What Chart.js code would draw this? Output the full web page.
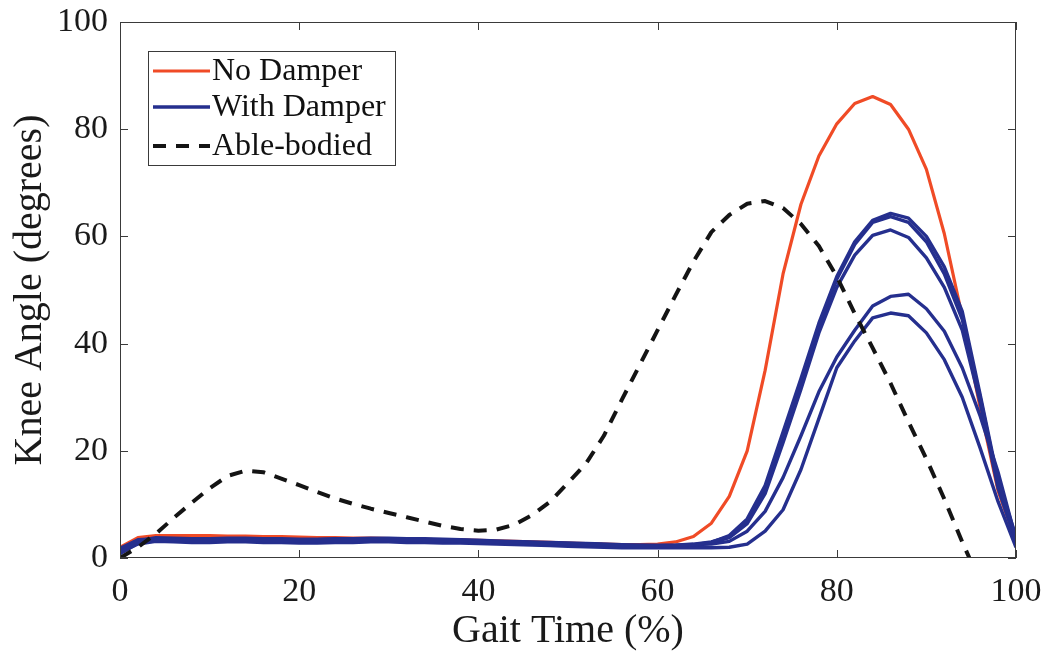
<!DOCTYPE html>
<html>
<head>
<meta charset="utf-8">
<script src="https://cdn.jsdelivr.net/npm/chart.js@4"></script>
<style>
  html, body { margin: 0; padding: 0; background: #ffffff; }
  #wrap { width: 1046px; height: 655px; position: relative; }
</style>
</head>
<body>
<div id="wrap"><canvas id="c" width="1046" height="655"></canvas></div>
<script>
// ---- data ----
const gaitTime = [0, 2, 4, 6, 8, 10, 12, 14, 16, 18, 20, 22, 24, 26, 28, 30, 32, 34, 36, 38, 40,
  42, 44, 46, 48, 50, 52, 54, 56, 58, 60, 62, 64, 66, 68, 70, 72, 74, 76, 78, 80,
  82, 84, 86, 88, 90, 92, 94, 96, 98, 100];

const noDamper = [2.0, 3.8, 4.2, 4.2, 4.2, 4.2, 4.1, 4.1, 4.0, 4.0, 3.9, 3.8, 3.8, 3.7, 3.7, 3.6,
  3.6, 3.5, 3.4, 3.4, 3.3, 3.2, 3.1, 3.0, 2.9, 2.8, 2.7, 2.6, 2.5, 2.5, 2.6, 3.0, 4.0, 6.5, 11.5,
  20, 35, 53, 66, 75, 81, 84.8, 86.1, 84.6, 80, 72.5, 60.5, 45, 28, 12.5, 3];

const withDamper1 = [1.2, 3.0, 3.5, 3.4, 3.3, 3.3, 3.4, 3.4, 3.3, 3.3, 3.2, 3.2, 3.3, 3.3, 3.4, 3.4,
  3.4, 3.3, 3.3, 3.2, 3.1, 3.0, 2.9, 2.8, 2.7, 2.6, 2.5, 2.4, 2.3, 2.2, 2.2, 2.3, 2.5, 2.9, 4.2,
  7.3, 13.5, 23.5, 33.5, 43.8, 52.5, 59, 63, 64.3, 63.4, 60, 54.3, 46, 30.5, 14.5, 4];
const withDamper2 = [1.8, 3.4, 3.6, 3.5, 3.5, 3.6, 3.6, 3.5, 3.5, 3.4, 3.4, 3.4, 3.5, 3.5, 3.5, 3.5,
  3.4, 3.4, 3.3, 3.3, 3.2, 3.1, 3.0, 2.9, 2.8, 2.7, 2.6, 2.5, 2.4, 2.4, 2.3, 2.4, 2.6, 3.0, 4.0,
  6.8, 12.8, 22.5, 32.8, 43.2, 52, 58.5, 62.6, 63.7, 62.6, 59, 53, 44.5, 30, 14, 3.5];
const withDamper3 = [0.8, 2.8, 3.3, 3.2, 3.1, 3.1, 3.2, 3.2, 3.2, 3.1, 3.0, 3.0, 3.1, 3.2, 3.2, 3.3,
  3.3, 3.2, 3.2, 3.1, 3.0, 2.9, 2.8, 2.7, 2.6, 2.5, 2.4, 2.3, 2.2, 2.1, 2.1, 2.2, 2.4, 2.8, 3.8,
  6.4, 12, 21.5, 31.5, 42, 50.5, 56.5, 60.2, 61.2, 59.8, 56, 50.5, 42.5, 29, 13, 3];
const withDamper4 = [1.5, 3.2, 3.8, 3.7, 3.6, 3.6, 3.7, 3.7, 3.6, 3.6, 3.5, 3.5, 3.6, 3.6, 3.7, 3.7,
  3.6, 3.6, 3.5, 3.4, 3.3, 3.2, 3.1, 3.0, 2.9, 2.8, 2.7, 2.6, 2.5, 2.4, 2.4, 2.4, 2.5, 2.6, 3.1,
  5.0, 8.7, 15, 22.8, 31, 37.5, 42.5, 47, 48.8, 49.2, 46.5, 42.3, 35.5, 26.5, 16, 3.5];
const withDamper5 = [1.0, 2.6, 3.1, 3.0, 2.9, 2.9, 3.0, 3.0, 2.9, 2.9, 2.8, 2.8, 2.9, 2.9, 3.0, 3.0,
  2.9, 2.9, 2.8, 2.8, 2.7, 2.6, 2.5, 2.4, 2.3, 2.2, 2.1, 2.0, 1.9, 1.9, 1.9, 1.9, 1.9, 1.9, 2.0,
  2.6, 5.0, 9.0, 16.5, 26, 35.5, 40.5, 44.8, 45.7, 45.2, 42, 37, 30, 20.5, 10.5, 2];

// able-bodied reference runs to 96 % (it leaves the axes below 0 near 95 %)
const ableBodied = [0, 2, 4.5, 7.5, 10.3, 13, 15.3, 16.3, 16, 14.8, 13.6, 12.3, 11.1, 10.1, 9.2, 8.4,
  7.6, 6.8, 6.0, 5.4, 5.1, 5.3, 6.2, 8.0, 10.5, 14, 17.6, 22.8, 29.5, 36, 42.5, 49, 55.3, 60.8, 64,
  66.1, 66.6, 65.3, 62.3, 58.2, 52.5, 45.6, 39.2, 32.6, 25.4, 18.5, 11, 3.0, -4.5];

const xTicks = [0, 20, 40, 60, 80, 100];
const yTicks = [0, 20, 40, 60, 80, 100];
const seriesNames = ['No Damper', 'With Damper', 'Able-bodied'];

// ---- build ----
const RED = '#f04b26', BLUE = '#252f8e', BLACK = '#141414';
const FONT = "'Liberation Serif', 'Times New Roman', serif";
const toXY = (ys) => ys.map((y, i) => ({ x: gaitTime[i], y }));

const blueTrials = [withDamper1, withDamper2, withDamper3, withDamper4, withDamper5];
const datasets = [];
datasets.push({ label: seriesNames[2], data: toXY(ableBodied), borderColor: BLACK, borderWidth: 4,
  borderDash: [13, 10], order: 0, inLegend: true });
blueTrials.forEach((t, k) => datasets.push({ label: seriesNames[1], data: toXY(t), borderColor: BLUE,
  borderWidth: 3.4, order: 1, inLegend: k === 0 }));
datasets.push({ label: seriesNames[0], data: toXY(noDamper), borderColor: RED, borderWidth: 3.2,
  order: 2, inLegend: true });
datasets.forEach(d => { d.pointRadius = 0; d.tension = 0; d.fill = false; d.borderCapStyle = 'butt'; d.borderJoinStyle = 'round'; });

const frame = {
  id: 'frame',
  afterDatasetsDraw(chart) {
    const { ctx, chartArea: a, scales } = chart;
    ctx.save();
    ctx.strokeStyle = '#3a3a3a';
    ctx.lineWidth = 1;
    ctx.strokeRect(a.left + 0.5, a.top + 0.5, a.right - a.left - 1, a.bottom - a.top - 1);
    const L = 8;
    ctx.beginPath();
    xTicks.forEach(v => {
      const px = Math.round(scales.x.getPixelForValue(v)) + 0.5;
      ctx.moveTo(px, a.bottom); ctx.lineTo(px, a.bottom - L);
      ctx.moveTo(px, a.top); ctx.lineTo(px, a.top + L);
    });
    yTicks.forEach(v => {
      const py = Math.round(scales.y.getPixelForValue(v)) + 0.5;
      ctx.moveTo(a.left, py); ctx.lineTo(a.left + L, py);
      ctx.moveTo(a.right, py); ctx.lineTo(a.right - L, py);
    });
    ctx.stroke();

    // legend box inside the axes (top-left)
    const items = chart.data.datasets.filter(d => d.inLegend);
    const order = seriesNames.map(n => items.find(d => d.label === n));
    const bx = a.left + 28, by = a.top + 29, bw = 247, bh = 114;
    ctx.fillStyle = '#ffffff';
    ctx.fillRect(bx, by, bw, bh);
    ctx.strokeStyle = '#3a3a3a';
    ctx.lineWidth = 1;
    ctx.strokeRect(bx + 0.5, by + 0.5, bw, bh);
    const rows = [20, 56, 95];
    ctx.font = '32px ' + FONT;
    ctx.textBaseline = 'middle';
    ctx.textAlign = 'left';
    order.forEach((d, i) => {
      const y = by + rows[i];
      ctx.save();
      ctx.strokeStyle = d.borderColor;
      ctx.lineWidth = d.borderWidth;
      ctx.setLineDash(d.borderDash || []);
      ctx.beginPath();
      ctx.moveTo(bx + 5, y); ctx.lineTo(bx + 62, y);
      ctx.stroke();
      ctx.restore();
      ctx.fillStyle = '#111111';
      ctx.fillText(d.label, bx + 64, y + 1);
    });
    ctx.restore();
  }
};

new Chart(document.getElementById('c'), {
  type: 'line',
  data: { datasets },
  options: {
    responsive: false,
    animation: false,
    devicePixelRatio: 1,
    layout: { padding: { top: 22, right: 30, bottom: 0, left: 0 } },
    plugins: { legend: { display: false }, tooltip: { enabled: false } },
    scales: {
      x: {
        type: 'linear', min: 0, max: 100,
        grid: { display: false }, border: { display: false },
        afterBuildTicks: (s) => { s.ticks = xTicks.map(v => ({ value: v })); },
        ticks: { color: '#1a1a1a', font: { family: FONT, size: 34 }, padding: 6, maxRotation: 0 },
        title: { display: true, text: 'Gait Time (%)', color: '#1a1a1a', font: { family: FONT, size: 40 },
          padding: { top: 0, bottom: 0 } },
        afterFit: (s) => { s.height = 97; s.paddingLeft = 0; s.paddingRight = 0; }
      },
      y: {
        type: 'linear', min: 0, max: 100,
        grid: { display: false }, border: { display: false },
        afterBuildTicks: (s) => { s.ticks = yTicks.map(v => ({ value: v })); },
        ticks: { color: '#1a1a1a', font: { family: FONT, size: 34 }, padding: 4 },
        title: { display: true, text: 'Knee Angle (degrees)', color: '#1a1a1a', font: { family: FONT, size: 40 },
          padding: { top: 6, bottom: 0 } },
        afterFit: (s) => { s.width = 120; s.paddingTop = 0; s.paddingBottom = 0; }
      }
    }
  },
  plugins: [frame]
});
</script>
</body>
</html>
